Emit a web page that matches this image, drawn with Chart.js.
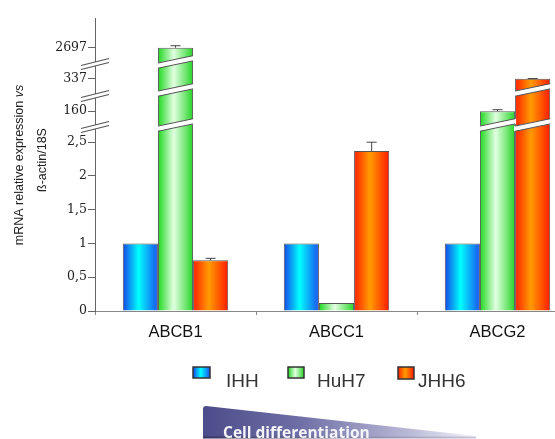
<!DOCTYPE html>
<html>
<head>
<meta charset="utf-8">
<script src="https://cdn.jsdelivr.net/npm/chart.js@4.4.1/dist/chart.umd.min.js"></script>
<style>
  html, body { margin: 0; padding: 0; background: #fff; overflow: hidden; }
  #wrap { width: 578px; height: 439px; }
</style>
</head>
<body>
<div id="wrap"><canvas id="chart" width="578" height="439"></canvas></div>
<script>
const genes = ['ABCB1', 'ABCC1', 'ABCG2'];
const cellLines = ['IHH', 'HuH7', 'JHH6'];
const ihh = [1, 1, 1];
const huh7 = [2697, 0.12, 160];
const jhh6 = [0.75, 2.37, 337];
const ihhErr = [0, 0, 0];
const huh7Err = [150, 0, 8];
const jhh6Err = [0.03, 0.17, 15];
const yTickValues = [0, 0.5, 1, 1.5, 2, 2.5, 160, 337, 2697];
const yTickLabels = ['0', '0,5', '1', '1,5', '2', '2,5', '160', '337', '2697'];

// broken axis: real value -> position along the drawn axis
const breakMap = [[0, 0], [2.5, 2.5], [160, 2.96], [337, 3.44], [2697, 3.9]];
const barBreaks = [2.755, 3.274, 3.689];
const axisBreaks = [2.726, 3.185, 3.659];

function toAxis(v) {
    for (let i = 1; i < breakMap.length; i++) {
        const a = breakMap[i - 1], b = breakMap[i];
        if (v <= b[0] || i === breakMap.length - 1) {
            return a[1] + (v - a[0]) * (b[1] - a[1]) / (b[0] - a[0]);
        }
    }
}

const palettes = [
    [[0, '#1446e6'], [0.45, '#00ffff'], [1, '#1a52f0']],
    [[0, '#1ed81e'], [0.45, '#e2ffe2'], [1, '#26d426']],
    [[0, '#ff1e00'], [0.45, '#ff9c00'], [1, '#ff1a00']]
];
const values = [ihh, huh7, jhh6];
const errors = [ihhErr, huh7Err, jhh6Err];

function hGrad(ctx, x0, x1, stops) {
    const g = ctx.createLinearGradient(x0, 0, x1, 0);
    stops.forEach(s => g.addColorStop(s[0], s[1]));
    return g;
}

const decor = {
    id: 'decor',
    beforeDatasetsDraw(chart) {
        const ctx = chart.ctx;
        chart.data.datasets.forEach((ds, i) => {
            chart.getDatasetMeta(i).data.forEach(bar => {
                bar.options.backgroundColor = hGrad(ctx, bar.x - bar.width / 2, bar.x + bar.width / 2, palettes[i]);
            });
        });
    },
    afterDatasetsDraw(chart) {
        const ctx = chart.ctx;
        const y = chart.scales.y;
        ctx.save();
        // white cuts through the tall bars
        chart.data.datasets.forEach((ds, i) => {
            chart.getDatasetMeta(i).data.forEach((bar, j) => {
                const top = toAxis(values[i][j]);
                const x0 = bar.x - bar.width / 2, x1 = bar.x + bar.width / 2;
                barBreaks.forEach(b => {
                    if (top < b + 0.12) return;
                    const yc = y.getPixelForValue(b), s = 3.7, h = 2.6;
                    ctx.fillStyle = '#fff';
                    ctx.beginPath();
                    ctx.moveTo(x0 - 1, yc + s - h);
                    ctx.lineTo(x1 + 1, yc - s - h);
                    ctx.lineTo(x1 + 1, yc - s + h);
                    ctx.lineTo(x0 - 1, yc + s + h);
                    ctx.closePath();
                    ctx.fill();
                    ctx.strokeStyle = '#555';
                    ctx.lineWidth = 1;
                    ctx.beginPath();
                    ctx.moveTo(x0, yc + s - h);
                    ctx.lineTo(x1, yc - s - h);
                    ctx.moveTo(x0, yc + s + h);
                    ctx.lineTo(x1, yc - s + h);
                    ctx.stroke();
                });
                // error bar
                const e = errors[i][j];
                if (e > 0) {
                    const yt = y.getPixelForValue(toAxis(values[i][j] + e));
                    ctx.strokeStyle = '#444';
                    ctx.lineWidth = 1;
                    ctx.beginPath();
                    ctx.moveTo(bar.x, bar.y);
                    ctx.lineTo(bar.x, yt);
                    ctx.moveTo(bar.x - 5, yt);
                    ctx.lineTo(bar.x + 5, yt);
                    ctx.stroke();
                }
            });
        });
        ctx.restore();
    },
    afterDraw(chart) {
        const ctx = chart.ctx;
        const y = chart.scales.y;
        const ax = chart.chartArea.left;
        ctx.save();

        // axis break marks
        axisBreaks.forEach(b => {
            const yc = y.getPixelForValue(b), s = 3.5, h = 2;
            ctx.fillStyle = '#fff';
            ctx.beginPath();
            ctx.moveTo(ax - 6, yc + 1.5 - h);
            ctx.lineTo(ax + 6, yc - 1.5 - h);
            ctx.lineTo(ax + 6, yc - 1.5 + h);
            ctx.lineTo(ax - 6, yc + 1.5 + h);
            ctx.closePath();
            ctx.fill();
            ctx.strokeStyle = '#555';
            ctx.lineWidth = 1.1;
            ctx.beginPath();
            ctx.moveTo(ax - 14, yc + s - h);
            ctx.lineTo(ax + 14, yc - s - h);
            ctx.moveTo(ax - 14, yc + s + h);
            ctx.lineTo(ax + 14, yc - s + h);
            ctx.stroke();
        });

        // y axis title
        ctx.fillStyle = '#222';
        ctx.textBaseline = 'middle';
        ctx.textAlign = 'left';
        ctx.save();
        ctx.translate(20, 165);
        ctx.rotate(-Math.PI / 2);
        const part1 = 'mRNA relative expression ', part2 = 'vs';
        ctx.font = '12.5px "Liberation Sans", Arial, sans-serif';
        const w1 = ctx.measureText(part1).width;
        ctx.font = 'italic 12.5px "Liberation Sans", Arial, sans-serif';
        const w2 = ctx.measureText(part2).width;
        ctx.font = '12.5px "Liberation Sans", Arial, sans-serif';
        ctx.fillText(part1, -(w1 + w2) / 2, 0);
        ctx.font = 'italic 12.5px "Liberation Sans", Arial, sans-serif';
        ctx.fillText(part2, -(w1 + w2) / 2 + w1, 0);
        ctx.restore();
        ctx.save();
        ctx.translate(43, 160);
        ctx.rotate(-Math.PI / 2);
        ctx.textAlign = 'center';
        ctx.font = '12.5px "Liberation Sans", Arial, sans-serif';
        ctx.fillText('ß-actin/18S', 0, 0);
        ctx.restore();

        // legend
        const legendItems = [
            { box: [193, 367, 17, 11], tx: 226 },
            { box: [288, 367, 16, 11], tx: 317 },
            { box: [398, 367, 16, 12], tx: 418 }
        ];
        ctx.font = '19px "Liberation Sans", Arial, sans-serif';
        ctx.textBaseline = 'alphabetic';
        ctx.textAlign = 'left';
        legendItems.forEach((it, i) => {
            const [bx, by, bw, bh] = it.box;
            ctx.fillStyle = hGrad(ctx, bx, bx + bw, palettes[i]);
            ctx.fillRect(bx, by, bw, bh);
            ctx.strokeStyle = '#333';
            ctx.lineWidth = 1.5;
            ctx.strokeRect(bx, by, bw, bh);
            ctx.fillStyle = '#333';
            ctx.fillText(cellLines[i], it.tx, 387);
        });

        // cell differentiation banner
        const bg = ctx.createLinearGradient(203, 0, 476, 0);
        bg.addColorStop(0, '#4c4c8a');
        bg.addColorStop(0.35, '#6e6ea6');
        bg.addColorStop(0.75, '#b8b8d6');
        bg.addColorStop(1, '#f4f4fa');
        ctx.fillStyle = bg;
        ctx.beginPath();
        ctx.moveTo(203, 438);
        ctx.lineTo(203, 409);
        ctx.quadraticCurveTo(203, 406, 206, 406);
        ctx.lineTo(476, 436);
        ctx.lineTo(476, 438);
        ctx.closePath();
        ctx.fill();
        const eg = ctx.createLinearGradient(203, 0, 476, 0);
        eg.addColorStop(0, '#33335e');
        eg.addColorStop(1, '#c8c8dc');
        ctx.fillStyle = eg;
        ctx.fillRect(203, 436.5, 273, 2);
        ctx.fillStyle = '#f4f4fa';
        ctx.font = 'bold 15.5px "Open Sans", sans-serif';
        ctx.fillText('Cell differentiation', 223, 438);

        ctx.restore();
    }
};

new Chart(document.getElementById('chart'), {
    type: 'bar',
    data: {
        labels: genes,
        datasets: cellLines.map((name, i) => ({
            label: name,
            data: values[i].map(toAxis),
            backgroundColor: () => '#cccccc',
            borderColor: '#555',
            borderWidth: 1,
            categoryPercentage: 0.655,
            barPercentage: 1
        }))
    },
    options: {
        responsive: false,
        animation: false,
        layout: { padding: { top: 18, left: 0, right: 0, bottom: 0 } },
        plugins: { legend: { display: false }, tooltip: { enabled: false } },
        scales: {
            x: {
                afterFit(scale) { scale.height = 128; },
                grid: { display: true, drawOnChartArea: false, drawTicks: true, tickLength: 4, offset: true, color: '#888' },
                border: { display: true, color: '#888', width: 1 },
                ticks: {
                    color: '#111',
                    padding: 8,
                    font: { family: '"Liberation Sans", Arial, sans-serif', size: 16.5 }
                }
            },
            y: {
                min: 0,
                max: 4.34,
                afterFit(scale) { scale.width = 95; },
                afterBuildTicks(scale) {
                    scale.ticks = yTickValues.map(v => ({ value: toAxis(v) }));
                },
                grid: { display: true, drawOnChartArea: false, drawTicks: true, tickLength: 7, color: '#666' },
                border: { display: true, color: '#666', width: 1 },
                ticks: {
                    color: '#222',
                    padding: 1,
                    font: { family: '"DejaVu Serif", serif', size: 12.5 },
                    callback: (val, idx) => yTickLabels[idx]
                }
            }
        }
    },
    plugins: [decor]
});
</script>
</body>
</html>
